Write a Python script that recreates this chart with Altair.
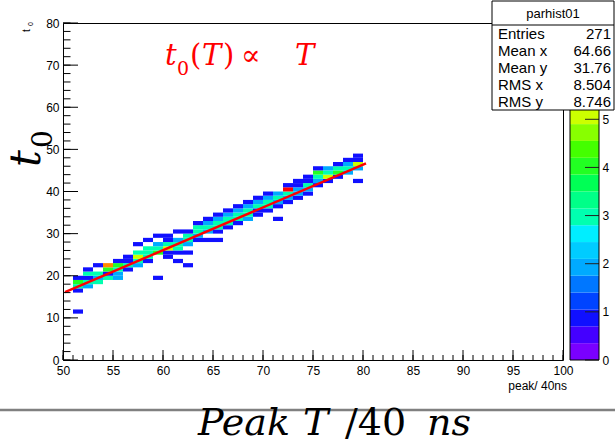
import altair as alt
import pandas as pd

# ---------------- data ----------------
# 2-D histogram cells: lower edge of x bin (peak/40ns), lower edge of y bin (t0), entries
cell_x = [51, 51, 51, 51, 51,
          52, 52, 52, 52, 52,
          53, 53, 53, 53,
          54, 54, 54, 54,
          55, 55, 55, 55, 55,
          56, 56, 56, 56,
          57, 57, 57, 57, 57,
          58, 58, 58, 58, 58,
          59, 59, 59, 59, 59,
          60, 60, 60, 60, 60, 60,
          61, 61, 61, 61, 61, 61,
          62, 62, 62, 62, 62, 62,
          63, 63, 63, 63, 63,
          64, 64, 64, 64, 64,
          65, 65, 65, 65, 65, 65,
          66, 66, 66, 66, 66,
          67, 67, 67, 67, 67,
          68, 68, 68, 68, 68,
          69, 69, 69, 69, 69,
          70, 70, 70, 70, 70,
          71, 71, 71, 71, 71,
          72, 72, 72, 72, 72,
          73, 73, 73, 73, 73,
          74, 74, 74, 74, 74,
          75, 75, 75, 75, 75,
          76, 76, 76, 76,
          77, 77, 77, 77,
          78, 78, 78, 78,
          79, 79, 79, 79, 79]
cell_y = [11, 16, 17, 18, 19,
          17, 18, 19, 20, 21,
          18, 19, 20, 22,
          19, 20, 21, 22,
          19, 20, 21, 22, 23,
          21, 22, 23, 24,
          22, 23, 24, 25, 27,
          23, 24, 25, 26, 28,
          19, 25, 26, 27, 29,
          24, 25, 26, 27, 28, 29,
          23, 25, 26, 27, 28, 30,
          22, 25, 27, 28, 29, 30,
          28, 29, 30, 31, 32,
          28, 30, 31, 32, 33,
          28, 30, 31, 32, 33, 34,
          31, 32, 33, 34, 35,
          32, 33, 34, 35, 36,
          33, 34, 35, 36, 37,
          34, 35, 36, 37, 38,
          35, 36, 37, 38, 39,
          33, 36, 37, 38, 39,
          37, 38, 39, 40, 41,
          38, 39, 40, 41, 42,
          39, 40, 41, 42, 43,
          41, 42, 43, 44, 45,
          42, 43, 44, 45,
          43, 44, 45, 46,
          44, 45, 46, 47,
          42, 45, 46, 47, 48]
cell_n = [1, 1, 3, 4, 1,
          2, 3, 1, 3, 1,
          3, 2, 3, 1,
          3, 1, 4, 6,
          2, 2, 3, 4, 1,
          1, 3, 1, 1,
          2, 3, 5, 3, 1,
          1, 3, 3, 3, 1,
          1, 4, 3, 2, 1,
          1, 1, 5, 3, 1, 1,
          1, 1, 3, 3, 2, 1,
          1, 1, 2, 3, 3, 1,
          1, 2, 3, 3, 1,
          1, 2, 3, 2, 1,
          1, 1, 3, 3, 2, 1,
          1, 3, 3, 2, 1,
          1, 3, 3, 2, 1,
          2, 3, 3, 2, 1,
          1, 1, 3, 2, 1,
          1, 3, 3, 2, 1,
          1, 1, 2, 3, 2,
          1, 2, 3, 7, 1,
          1, 2, 2, 1, 1,
          1, 2, 3, 1, 1,
          1, 2, 3, 4, 1,
          1, 5, 3, 2,
          1, 4, 3, 1,
          2, 3, 2, 1,
          1, 2, 5, 1, 1]

# fitted straight line t0(T)
fit_x = [50.2, 80.3]
fit_y = [16.1, 46.7]

# axis ticks
x_major = [50, 55, 60, 65, 70, 75, 80, 85, 90, 95, 100]
x_minor = list(range(50, 101))
y_major = [0, 10, 20, 30, 40, 50, 60, 70, 80]
y_minor = list(range(0, 81, 2))

# colour bar (20 contour bands from 0 to 7)
z_max = 7.0
n_bands = 20
palette = ["#7a00ff", "#4400ff", "#1010ff", "#0044ff", "#0077ff",
           "#00aaff", "#00ccff", "#00eeff", "#00ffb0", "#00ff88",
           "#00ff55", "#22ff22", "#44ff00", "#88ff00", "#ccff00",
           "#ffff00", "#ffcc00", "#ff8800", "#ff4400", "#ff0000"]
z_labels = [0, 1, 2, 3, 4, 5]

stat_title = "parhist01"
stat_labels = ["Entries", "Mean x", "Mean y", "RMS x", "RMS y"]
stat_values = ["271", "64.66", "31.76", "8.504", "8.746"]

# ---------------- chart ----------------
W, H = 500, 337
FONT = "Liberation Sans"
band_w = z_max / n_bands
thresholds = [round(band_w * k, 4) for k in range(1, n_bands)]
cscale = alt.Scale(type="threshold", domain=thresholds, range=palette)

cells_df = pd.DataFrame({"x": cell_x, "y": cell_y, "n": cell_n})
cells_df["x2"] = cells_df["x"] + 1
cells_df["y2"] = cells_df["y"] + 1

xs = alt.Scale(domain=[50, 100], nice=False, zero=False)
ys = alt.Scale(domain=[0, 80], nice=False, zero=False)

cells = alt.Chart(cells_df).mark_rect(strokeWidth=0).encode(
    x=alt.X("x:Q", scale=xs, axis=alt.Axis(values=x_major, ticks=False, domain=False, grid=False,
                                           labelFlush=False, labelOverlap=False, labelPadding=5,
                                           labelFontSize=12, labelFont=FONT, labelColor="black", title=None)),
    x2="x2:Q",
    y=alt.Y("y:Q", scale=ys, axis=alt.Axis(values=y_major, ticks=False, domain=False, grid=False,
                                           labelFlush=False, labelOverlap=False, labelPadding=4,
                                           labelFontSize=12, labelFont=FONT, labelColor="black", title=None)),
    y2="y2:Q",
    color=alt.Color("n:Q", scale=cscale, legend=None),
)

fit = alt.Chart(pd.DataFrame({"x": fit_x, "y": fit_y})).mark_line(
    color="#ff0000", strokeWidth=2.5).encode(x="x:Q", y="y:Q")

xmaj = alt.Chart(pd.DataFrame({"x": x_major})).mark_rule(color="black").encode(
    x="x:Q", y=alt.value(H), y2=alt.value(H - 10))
xmin = alt.Chart(pd.DataFrame({"x": x_minor})).mark_rule(color="black").encode(
    x="x:Q", y=alt.value(H), y2=alt.value(H - 5))
ymaj = alt.Chart(pd.DataFrame({"y": y_major})).mark_rule(color="black").encode(
    y="y:Q", x=alt.value(0), x2=alt.value(15))
ymin = alt.Chart(pd.DataFrame({"y": y_minor})).mark_rule(color="black").encode(
    y="y:Q", x=alt.value(0), x2=alt.value(7.5))

main = alt.layer(cells, fit, xmaj, xmin, ymaj, ymin)

# colour bar
cb_df = pd.DataFrame({"lo": [band_w * k for k in range(n_bands)]})
cb_df["hi"] = cb_df["lo"] + band_w
cb_df["mid"] = cb_df["lo"] + band_w / 2
zs = alt.Scale(domain=[0, z_max], nice=False, zero=False)
CB_L, CB_R = 507, 536
cb_rect = alt.Chart(cb_df).mark_rect(strokeWidth=0).encode(
    y=alt.Y("lo:Q", scale=zs, axis=alt.Axis(orient="right", values=z_labels, offset=CB_R - W, ticks=False,
                                            domain=False, grid=False, labelFlush=False, labelOverlap=False,
                                            labelPadding=3, labelFontSize=12, labelFont=FONT,
                                            labelColor="black", title=None)),
    y2="hi:Q",
    x=alt.value(CB_L), x2=alt.value(CB_R),
    color=alt.Color("mid:Q", scale=cscale, legend=None),
)
cb_ticks = alt.Chart(pd.DataFrame({"lo": z_labels})).mark_rule(color="#222222").encode(
    y=alt.Y("lo:Q", scale=zs), x=alt.value(CB_R - 14), x2=alt.value(CB_R))
one = pd.DataFrame({"a": [0]})
cb_frame = alt.Chart(one).mark_rect(fill=None, stroke="black", strokeWidth=1).encode(
    x=alt.value(CB_L), x2=alt.value(CB_R), y=alt.value(0), y2=alt.value(H))
cbar = alt.layer(cb_rect, cb_ticks)

# statistics box
box = alt.Chart(one).mark_rect(fill="white", stroke="black", strokeWidth=1).encode(
    x=alt.value(429), x2=alt.value(551), y=alt.value(-22), y2=alt.value(87))
box_line = alt.Chart(one).mark_rule(color="black").encode(
    x=alt.value(429), x2=alt.value(551), y=alt.value(2))


def txt(s, x, y, size, align="left", baseline="middle", color="black", font=FONT,
        style="normal", angle=0):
    return alt.Chart(one).mark_text(text=s, align=align, baseline=baseline, fontSize=size, color=color,
                                    font=font, fontStyle=style, angle=angle).encode(
        x=alt.value(x), y=alt.value(y))


texts = [txt(stat_title, 490, -9, 13, align="center")]
for i, (lab, val) in enumerate(zip(stat_labels, stat_values)):
    texts.append(txt(lab, 435, 11 + 17 * i, 15))
    texts.append(txt(val, 548, 11 + 17 * i, 15, align="right"))

SERIF = "DejaVu Serif"
# red annotation  t0(T) ∝ T
texts += [
    txt("t", 102, 42, 29, baseline="alphabetic", color="#ff0000", font=SERIF, style="italic"),
    txt("0", 114, 52, 19, baseline="alphabetic", color="#ff0000", font=SERIF),
    txt("(", 127, 42, 29, baseline="alphabetic", color="#ff0000", font=SERIF),
    txt("T", 139, 42, 29, baseline="alphabetic", color="#ff0000", font=SERIF, style="italic"),
    txt(")", 160, 42, 29, baseline="alphabetic", color="#ff0000", font=SERIF),
    txt("\u221d", 178, 42, 29, baseline="alphabetic", color="#ff0000", font=SERIF),
    txt("T", 232, 42, 29, baseline="alphabetic", color="#ff0000", font=SERIF, style="italic"),
]
# big y title  t0
texts += [
    txt("t", -23, 144, 42, baseline="alphabetic", font=SERIF, style="italic", angle=270),
    txt("0", -11, 125, 28, baseline="alphabetic", font=SERIF, angle=270),
    txt("t", -33, 9, 10, baseline="alphabetic", font=FONT, angle=270),
    txt("0", -30, 3, 7, baseline="alphabetic", font=FONT, angle=270),
]
# x titles
texts += [
    txt("peak/ 40ns", 504, 363, 12, align="right"),
    txt("Peak", 135, 412, 38, baseline="alphabetic", font=SERIF, style="italic"),
    txt("T", 240, 412, 38, baseline="alphabetic", font=SERIF, style="italic"),
    txt("/40", 282, 412, 38, baseline="alphabetic", font=SERIF),
    txt("ns", 364, 412, 38, baseline="alphabetic", font=SERIF, style="italic"),
]
sep = alt.Chart(one).mark_rule(color="#808080", strokeWidth=2.5).encode(
    x=alt.value(-63), x2=alt.value(552), y=alt.value(387))

chart = alt.layer(main, cbar, cb_frame, box, box_line, sep, *texts).resolve_scale(
    y="independent", color="independent"
).properties(
    width=W, height=H,
    autosize=alt.AutoSizeParams(type="none"),
    padding={"left": 63, "top": 23, "right": 52, "bottom": 82},
    background="white",
).configure_view(stroke="black", strokeWidth=1)

chart.save("out.html", embed_options={"renderer": "svg", "actions": False})
